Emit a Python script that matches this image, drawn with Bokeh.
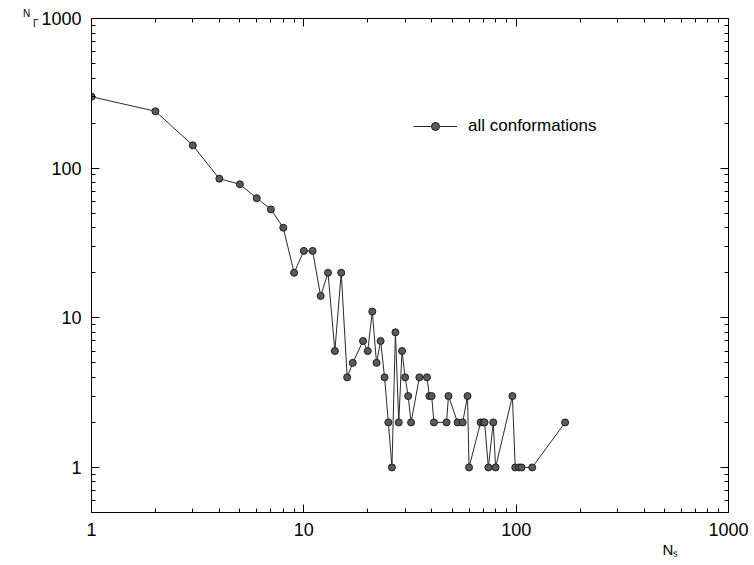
from bokeh.plotting import figure
from bokeh.models import FixedTicker, LogAxis, Legend, LegendItem, Range1d, PrintfTickFormatter, Title
from bokeh.embed import file_html
from bokeh.resources import INLINE

# ---- data ----
n_s = [1, 2, 3, 4, 5, 6, 7, 8, 9, 10, 11, 12, 13, 14, 15, 16, 17, 19, 20, 21,
       22, 23, 24, 25, 26, 27, 28, 29, 30, 31, 32, 35, 38, 39, 40, 41, 47, 48,
       53, 56, 59, 60, 68, 70, 71, 74, 78, 80, 96, 99, 103, 106, 119, 170]
n_gamma = [300, 240, 142, 85, 78, 63, 53, 40, 20, 28, 28, 14, 20, 6, 20, 4, 5, 7, 6, 11,
           5, 7, 4, 2, 1, 8, 2, 6, 4, 3, 2, 4, 4, 3, 3, 2, 2, 3,
           2, 2, 3, 1, 2, 2, 2, 1, 2, 1, 3, 1, 1, 1, 1, 2]
series_label = "all conformations"
x_title = "Nₛ"
y_title_main = "N"
y_title_sub = "Γ"
x_major = [1, 10, 100, 1000]
y_major = [1, 10, 100, 1000]
x_minor = [m * 10 ** k for k in range(0, 3) for m in range(2, 10)]
y_minor = [m / 10 for m in range(5, 10)] + [m * 10 ** k for k in range(0, 3) for m in range(2, 10)]

FONT = "Liberation Sans"
NB = "\u00a0"

p = figure(x_axis_type="log", y_axis_type="log",
           x_range=Range1d(1, 1000), y_range=Range1d(0.5, 1000),
           frame_width=637, frame_height=494,
           min_border_left=91, min_border_right=26,
           min_border_top=18, min_border_bottom=53,
           output_backend="svg", toolbar_location=None)

p.xgrid.visible = False
p.ygrid.visible = False
p.outline_line_color = "black"
p.outline_line_width = 1
p.background_fill_color = "white"
p.border_fill_color = "white"

def style(ax, ticker, labels=True):
    ax.ticker = ticker
    ax.axis_line_color = "black"
    ax.major_tick_in = 8
    ax.major_tick_out = 0
    ax.minor_tick_in = 4
    ax.minor_tick_out = 0
    ax.major_tick_line_color = "black"
    ax.minor_tick_line_color = "black"
    if labels:
        ax.formatter = PrintfTickFormatter(format="%d")
        ax.major_label_text_font = FONT
        ax.major_label_text_font_size = "18px"
        ax.major_label_text_color = "black"
        ax.major_label_standoff = 10
    else:
        ax.major_label_text_font_size = "2px"
        ax.major_label_text_color = None
        ax.major_label_standoff = 0

xa = p.xaxis[0]
ya = p.yaxis[0]
style(xa, FixedTicker(ticks=x_major, minor_ticks=x_minor))
style(ya, FixedTicker(ticks=y_major, minor_ticks=y_minor))

ya.axis_label = y_title_main + NB * 3 + "\n" + NB * 3 + y_title_sub
ya.axis_label_orientation = "horizontal"
ya.axis_label_align = "end"
ya.axis_label_standoff = 0
ya.axis_label_text_font = FONT
ya.axis_label_text_font_style = "normal"
ya.axis_label_text_font_size = "10px"
ya.axis_label_text_line_height = 0.9
ya.axis_label_text_color = "black"

ax_top = LogAxis()
ax_right = LogAxis()
style(ax_top, FixedTicker(ticks=x_major, minor_ticks=x_minor), labels=False)
style(ax_right, FixedTicker(ticks=y_major, minor_ticks=y_minor), labels=False)
p.add_layout(ax_top, "above")
p.add_layout(ax_right, "right")

# x-axis title placed under the axis, toward its right end
p.add_layout(Title(text=x_title, align="left", offset=571, standoff=0,
                   text_font=FONT, text_font_style="normal",
                   text_font_size="15px", text_color="black"), "below")

ln = p.line(n_s, n_gamma, line_color="#2a2a2a", line_width=1)
sc = p.scatter(n_s, n_gamma, size=7, fill_color="#5a5a5a", line_color="#1e1e1e", line_width=1)

legend = Legend(items=[LegendItem(label=series_label, renderers=[ln, sc])],
                location=(322, 376), orientation="vertical",
                glyph_width=44, glyph_height=20, label_height=20,
                label_standoff=11, padding=0, margin=0, spacing=0,
                border_line_alpha=0, background_fill_alpha=0,
                label_text_font=FONT, label_text_font_size="17px",
                label_text_color="black")
p.add_layout(legend, "center")

open("out.html", "w").write(file_html(p, INLINE))
